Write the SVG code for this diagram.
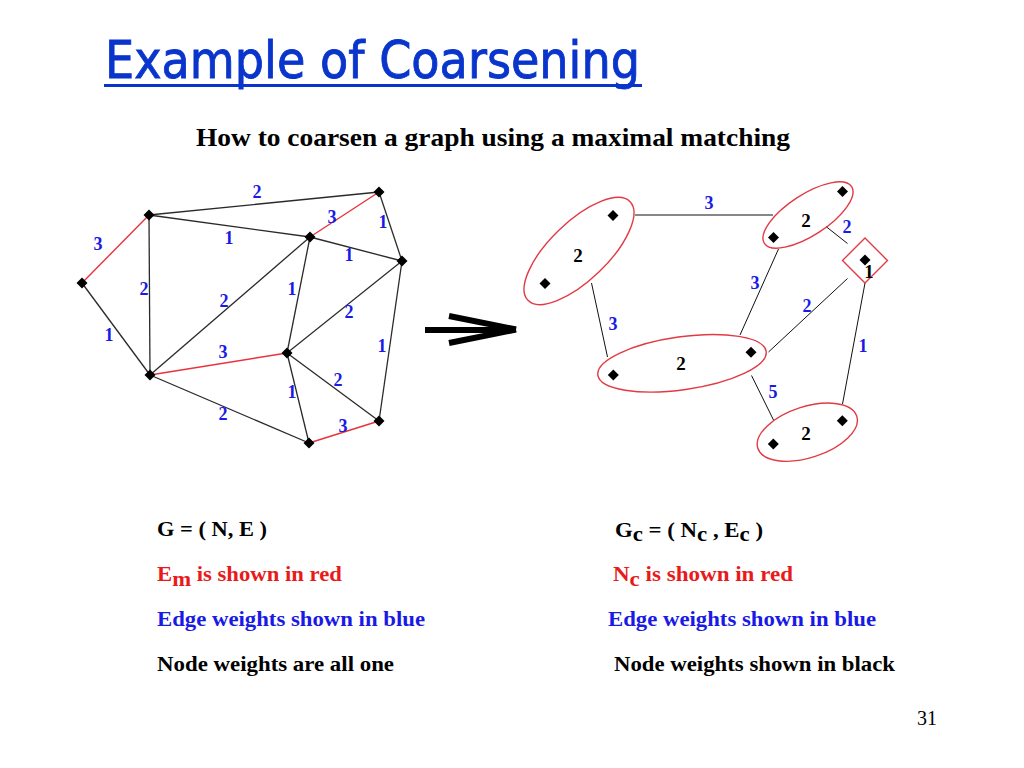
<svg xmlns="http://www.w3.org/2000/svg" xmlns:xlink="http://www.w3.org/1999/xlink" width="1024" height="768" viewBox="0 0 1024 768">
<style>
.e{stroke:#2a2a2a;stroke-width:1.3;fill:none}
.r{stroke:#e8323c;stroke-width:1.4;fill:none}
.t{stroke:#111;stroke-width:1;fill:none}
.grp{stroke:#e23a44;stroke-width:1.4;fill:none}
.w{font-family:"Liberation Serif","Times New Roman",serif;font-weight:bold;font-size:18px;fill:#1a1ae6;text-anchor:middle}
.nw{font-family:"Liberation Serif","Times New Roman",serif;font-weight:bold;font-size:19px;fill:#000;text-anchor:middle}
.b{font-family:"Liberation Serif","Times New Roman",serif;font-weight:bold;font-size:22px}
</style>
<defs>
<path id="nd" d="M0,-5.5 L5.5,0 L0,5.5 L-5.5,0 Z" fill="#000"/>
</defs>
<rect width="1024" height="768" fill="#fff"/>

<g id="title">
<text x="105" y="78" font-family="'DejaVu Sans','Noto Sans',sans-serif" font-size="52" fill="#0a35cc" stroke="#0a35cc" stroke-width="0.9" textLength="535" lengthAdjust="spacingAndGlyphs">Example of Coarsening</text>
<rect x="104" y="84" width="538" height="3" fill="#0a35cc"/>
</g>
<text id="subtitle" x="196" y="146" class="b" style="font-size:25px" fill="#000" textLength="594" lengthAdjust="spacingAndGlyphs">How to coarsen a graph using a maximal matching</text>

<!-- Left graph connectors -->
<g id="connectors-left">
<line class="e" x1="149" y1="215" x2="379" y2="192"/>
<line class="e" x1="149" y1="215" x2="310" y2="237"/>
<line class="r" x1="149" y1="215" x2="82" y2="283"/>
<line class="e" x1="149" y1="215" x2="150" y2="375"/>
<line class="r" x1="379" y1="192" x2="310" y2="237"/>
<line class="e" x1="379" y1="192" x2="402" y2="261"/>
<line class="e" x1="310" y1="237" x2="402" y2="261"/>
<line class="e" x1="310" y1="237" x2="150" y2="375"/>
<line class="e" x1="310" y1="237" x2="287" y2="353"/>
<line class="e" x1="402" y1="261" x2="287" y2="353"/>
<line class="e" x1="402" y1="261" x2="379" y2="421"/>
<line class="e" x1="82" y1="283" x2="150" y2="375"/>
<line class="r" x1="150" y1="375" x2="287" y2="353"/>
<line class="e" x1="150" y1="375" x2="309" y2="443"/>
<line class="e" x1="287" y1="353" x2="309" y2="443"/>
<line class="e" x1="287" y1="353" x2="379" y2="421"/>
<line class="r" x1="309" y1="443" x2="379" y2="421"/>
<text class="w" x="257" y="198">2</text>
<text class="w" x="332" y="223">3</text>
<text class="w" x="383" y="228">1</text>
<text class="w" x="98" y="250">3</text>
<text class="w" x="229" y="244">1</text>
<text class="w" x="349" y="261">1</text>
<text class="w" x="144" y="295">2</text>
<text class="w" x="224" y="307">2</text>
<text class="w" x="292" y="295">1</text>
<text class="w" x="349" y="318">2</text>
<text class="w" x="109" y="341">1</text>
<text class="w" x="223" y="358">3</text>
<text class="w" x="382" y="352">1</text>
<text class="w" x="338" y="386">2</text>
<text class="w" x="292" y="398">1</text>
<text class="w" x="223" y="420">2</text>
<text class="w" x="343" y="432">3</text>
</g>

<g id="nA"><use xlink:href="#nd" x="149" y="215"/></g>
<g id="nB"><use xlink:href="#nd" x="379" y="192"/></g>
<g id="nC"><use xlink:href="#nd" x="310" y="237"/></g>
<g id="nD"><use xlink:href="#nd" x="402" y="261"/></g>
<g id="nE"><use xlink:href="#nd" x="82" y="283"/></g>
<g id="nF"><use xlink:href="#nd" x="150" y="375"/></g>
<g id="nG"><use xlink:href="#nd" x="287" y="353"/></g>
<g id="nH"><use xlink:href="#nd" x="379" y="421"/></g>
<g id="nI"><use xlink:href="#nd" x="309" y="443"/></g>

<g id="arrow" stroke="#000" stroke-width="6" fill="none">
<line x1="425" y1="330" x2="508" y2="330"/>
<line x1="449" y1="316" x2="516" y2="329.5"/>
<line x1="449" y1="343" x2="516" y2="329.5"/>
</g>

<!-- Right graph connectors -->
<g id="connectors-right">
<line class="t" x1="635" y1="215" x2="773" y2="215"/>
<line class="t" x1="591.5" y1="283" x2="607.5" y2="357"/>
<line class="t" x1="778.5" y1="249" x2="740" y2="335"/>
<line class="t" x1="826" y1="226.5" x2="847.5" y2="243.5"/>
<line class="t" x1="847.5" y1="278.5" x2="768.5" y2="352"/>
<line class="t" x1="865" y1="283" x2="842.5" y2="404"/>
<line class="t" x1="751.5" y1="375.5" x2="773.5" y2="420"/>
<text class="w" x="709" y="209">3</text>
<text class="w" x="613" y="330">3</text>
<text class="w" x="755" y="289">3</text>
<text class="w" x="847" y="233">2</text>
<text class="w" x="807" y="312">2</text>
<text class="w" x="863" y="352">1</text>
<text class="w" x="773" y="398">5</text>
</g>

<g id="c1">
<ellipse class="grp" cx="579" cy="251" rx="71" ry="29" transform="rotate(-44 579 251)"/>
<use xlink:href="#nd" x="613" y="215.5"/>
<use xlink:href="#nd" x="545" y="283.5"/>
<text class="nw" x="578" y="262">2</text>
</g>
<g id="c2">
<ellipse class="grp" cx="808" cy="215" rx="52" ry="20.5" transform="rotate(-33 808 215)"/>
<use xlink:href="#nd" x="842.5" y="191.5"/>
<use xlink:href="#nd" x="773.5" y="237.5"/>
<text class="nw" x="806" y="227">2</text>
</g>
<g id="c3">
<polygon class="grp" points="865,238 887.5,260.5 865,283 842.5,260.5"/>
<use xlink:href="#nd" x="865" y="260"/>
<text class="nw" x="869" y="278">1</text>
</g>
<g id="c4">
<ellipse class="grp" cx="682" cy="363.3" rx="85" ry="26.5" transform="rotate(-8 682 363.3)"/>
<use xlink:href="#nd" x="751" y="352.3"/>
<use xlink:href="#nd" x="613.3" y="375"/>
<text class="nw" x="681" y="370">2</text>
</g>
<g id="c5">
<ellipse class="grp" cx="807.3" cy="432.2" rx="52" ry="25.5" transform="rotate(-18 807.3 432.2)"/>
<use xlink:href="#nd" x="842.3" y="420.7"/>
<use xlink:href="#nd" x="773.3" y="444"/>
<text class="nw" x="806" y="439.5">2</text>
</g>

<g id="legend-left" class="b">
<text x="157" y="536" fill="#000" textLength="110" lengthAdjust="spacingAndGlyphs">G = ( N, E )</text>
<text x="157" y="581" fill="#e81a1a" textLength="185" lengthAdjust="spacingAndGlyphs">E<tspan dy="5">m</tspan><tspan dy="-5"> is shown in red</tspan></text>
<text x="157" y="626" fill="#1a1ae6" textLength="268" lengthAdjust="spacingAndGlyphs">Edge weights shown in blue</text>
<text x="157" y="671" fill="#000" textLength="237" lengthAdjust="spacingAndGlyphs">Node weights are all one</text>
</g>
<g id="legend-right" class="b">
<text x="615" y="537" fill="#000" textLength="148" lengthAdjust="spacingAndGlyphs">G<tspan dy="4">c</tspan><tspan dy="-4"> = ( N</tspan><tspan dy="4">c</tspan><tspan dy="-4"> , E</tspan><tspan dy="4">c</tspan><tspan dy="-4"> )</tspan></text>
<text x="613" y="581" fill="#e81a1a" textLength="180" lengthAdjust="spacingAndGlyphs">N<tspan dy="5">c</tspan><tspan dy="-5"> is shown in red</tspan></text>
<text x="608" y="626" fill="#1a1ae6" textLength="268" lengthAdjust="spacingAndGlyphs">Edge weights shown in blue</text>
<text x="614" y="671" fill="#000" textLength="281" lengthAdjust="spacingAndGlyphs">Node weights shown in black</text>
</g>

<text id="page" x="917" y="725" font-family="'Liberation Serif','Times New Roman',serif" font-size="20" fill="#000">31</text>
</svg>
